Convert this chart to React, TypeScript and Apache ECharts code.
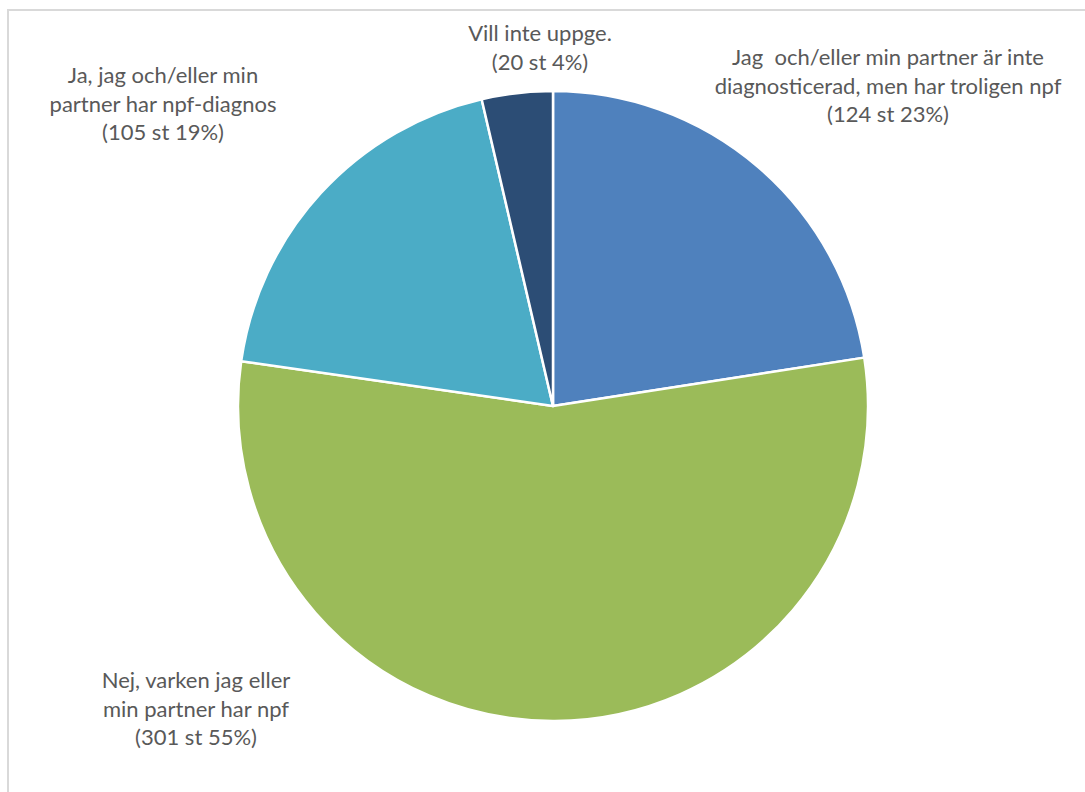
import React, { useEffect, useRef } from "react";
import * as echarts from "echarts";

const categories = [
  "Jag  och/eller min partner är inte\ndiagnosticerad, men har troligen npf",
  "Nej, varken jag eller\nmin partner har npf",
  "Ja, jag och/eller min\npartner har npf-diagnos",
  "Vill inte uppge.",
];
const counts = [124, 301, 105, 20];
const colors = ["#4F81BD", "#9BBB59", "#4BACC6", "#2C4D75"];

// label anchor centres (layout only)
const labelCenters = [
  [888, 85],
  [196, 708],
  [163, 103],
  [540, 47],
];

export default function App() {
  const ref = useRef<HTMLDivElement>(null);
  useEffect(() => {
    document.body.style.margin = "0";
    if (!ref.current) return;
    const chart = echarts.init(ref.current, undefined, { renderer: "svg" });
    const total = counts.reduce((a, b) => a + b, 0);
    chart.setOption({
      animation: false,
      backgroundColor: "#ffffff",
      graphic: [
        {
          type: "rect",
          shape: { x: 8, y: 10, width: 1200, height: 900 },
          style: { fill: "none", stroke: "#d9d9d9", lineWidth: 2 },
          silent: true,
        },
      ],
      series: [
        {
          type: "pie",
          center: [553, 406],
          radius: 315,
          startAngle: 90,
          clockwise: true,
          avoidLabelOverlap: false,
          itemStyle: { borderColor: "#ffffff", borderWidth: 2.5 },
          label: {
            show: true,
            position: "outside",
            color: "#595959",
            fontFamily: "Lato",
            fontSize: 22,
            lineHeight: 28.5,
            align: "center",
            formatter: (p: any) =>
              `${p.name}\n(${p.value} st ${Math.round((p.value / total) * 100)}%)`,
          },
          labelLine: { show: false },
          labelLayout: (params: any) => {
            const c = labelCenters[params.dataIndex];
            return { x: c[0], y: c[1], align: "center", verticalAlign: "middle" };
          },
          data: categories.map((name, i) => ({
            name,
            value: counts[i],
            itemStyle: { color: colors[i] },
          })),
        },
      ],
    });
    return () => chart.dispose();
  }, []);
  return <div ref={ref} style={{ width: 1085, height: 792 }} />;
}
